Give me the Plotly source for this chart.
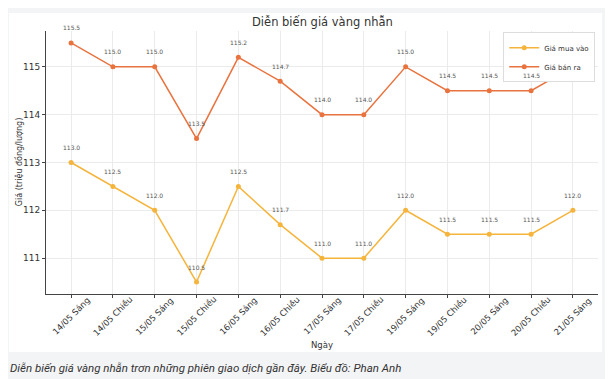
import plotly.graph_objects as go

categories = ["14/05 Sáng", "14/05 Chiều", "15/05 Sáng", "15/05 Chiều", "16/05 Sáng",
              "16/05 Chiều", "17/05 Sáng", "17/05 Chiều", "19/05 Sáng", "19/05 Chiều",
              "20/05 Sáng", "20/05 Chiều", "21/05 Sáng"]
buy_prices = [113.0, 112.5, 112.0, 110.5, 112.5, 111.7, 111.0, 111.0, 112.0, 111.5, 111.5, 111.5, 112.0]
sell_prices = [115.5, 115.0, 115.0, 113.5, 115.2, 114.7, 114.0, 114.0, 115.0, 114.5, 114.5, 114.5, 115.0]
# the last sell label sits behind the legend in the reference
show_sell_label = [True] * 12 + [False]
y_ticks = [111, 112, 113, 114, 115]

BUY_COLOR = "#F5B43C"
SELL_COLOR = "#E9733F"
FONT = "DejaVu Sans"
TXT = "#333333"

fig = go.Figure()
fig.add_trace(go.Scatter(x=categories, y=buy_prices, name="Giá mua vào", mode="lines+markers",
                         line=dict(color=BUY_COLOR, width=1.5), marker=dict(color=BUY_COLOR, size=5)))
fig.add_trace(go.Scatter(x=categories, y=sell_prices, name="Giá bán ra", mode="lines+markers",
                         line=dict(color=SELL_COLOR, width=1.5), marker=dict(color=SELL_COLOR, size=5)))

annotations = []
for c, v in zip(categories, buy_prices):
    annotations.append(dict(x=c, y=v, xref="x", yref="y", text=f"{v:.1f}", showarrow=False,
                            xanchor="center", yanchor="middle", yshift=15,
                            font=dict(family=FONT, size=6, color="#555555")))
for c, v, s in zip(categories, sell_prices, show_sell_label):
    if s:
        annotations.append(dict(x=c, y=v, xref="x", yref="y", text=f"{v:.1f}", showarrow=False,
                                xanchor="center", yanchor="middle", yshift=15,
                                font=dict(family=FONT, size=6, color="#555555")))
for c in categories:
    annotations.append(dict(x=c, y=0, xref="x", yref="paper", text=c, showarrow=False,
                            xanchor="center", yanchor="middle", textangle=-45, yshift=-22,
                            font=dict(family=FONT, size=8.5, color=TXT)))

annotations += [
    dict(x=0.5, y=-0.194, xref="paper", yref="paper", text="Ngày", showarrow=False,
         xanchor="center", yanchor="middle", font=dict(family=FONT, size=8.5, color=TXT)),
    dict(x=-0.0495, y=0.5, xref="paper", yref="paper", text="Giá (triệu đồng/lượng)", showarrow=False,
         xanchor="center", yanchor="middle", textangle=-90, font=dict(family=FONT, size=8, color=TXT)),
    dict(x=0.5, y=1.034, xref="paper", yref="paper", text="Diễn biến giá vàng nhẫn", showarrow=False,
         xanchor="center", yanchor="middle", font=dict(family=FONT, size=11.5, color=TXT)),
    dict(x=-0.069, y=-0.281, xref="paper", yref="paper", xanchor="left", yanchor="middle",
         text="<i>Diễn biến giá vàng nhẫn trơn những phiên giao dịch gần đây. Biểu đồ: Phan Anh</i>",
         showarrow=False, font=dict(family="Roboto", size=11.5, color=TXT)),
]

# page body has an 8px default margin; figure is sized to fill the rest of the window
fig.update_layout(
    width=605, height=371,
    margin=dict(l=38, r=15, t=23, b=85),
    paper_bgcolor="#F3F4F6", plot_bgcolor="white",
    showlegend=True,
    legend=dict(x=0.995, y=0.995, xanchor="right", yanchor="top", bgcolor="white",
                bordercolor="#DDDDDD", borderwidth=1, font=dict(family=FONT, size=7, color=TXT),
                itemwidth=30, tracegroupgap=0),
    annotations=annotations,
    shapes=[dict(type="rect", xref="paper", yref="paper", x0=-0.067, x1=1.0072, y0=-0.2205, y1=1.068,
                 fillcolor="white", line=dict(width=0), layer="below")],
)
fig.update_xaxes(range=[-0.6, 12.6], showticklabels=False, showgrid=True, gridcolor="#EBEBEB",
                 showline=True, linecolor="#444444", linewidth=1, ticks="outside", ticklen=3,
                 tickcolor="#444444", zeroline=False)
fig.update_yaxes(range=[110.25, 115.75], tickvals=y_ticks, showgrid=True, gridcolor="#EBEBEB",
                 showline=True, linecolor="#444444", linewidth=1, ticks="outside", ticklen=3,
                 tickcolor="#444444", zeroline=False, tickfont=dict(family=FONT, size=9, color=TXT))

fig.write_html("out.html", config={"displayModeBar": False})
